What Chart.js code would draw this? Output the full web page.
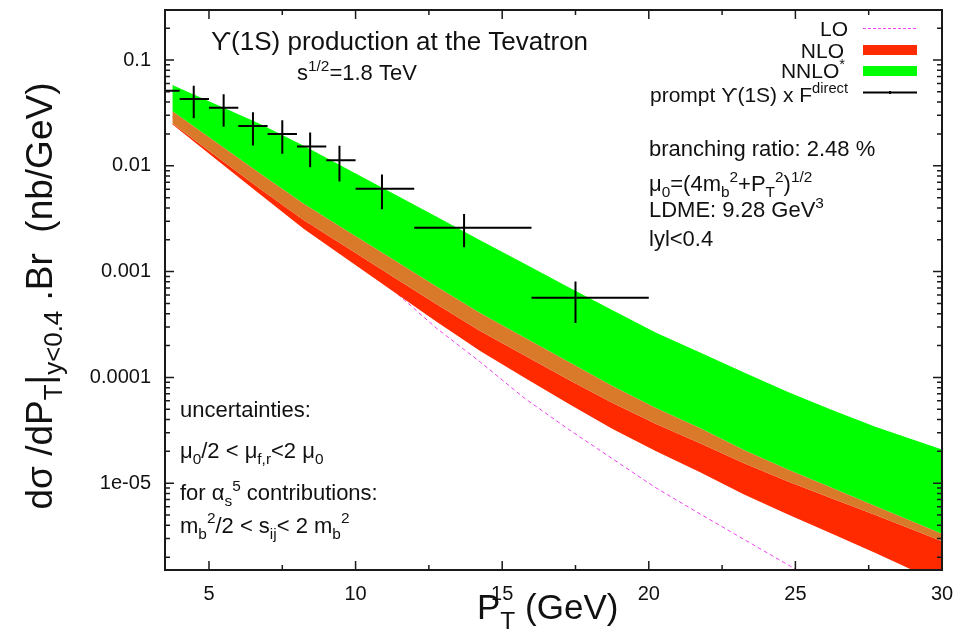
<!DOCTYPE html>
<html>
<head>
<meta charset="utf-8">
<script src="https://cdn.jsdelivr.net/npm/chart.js@4.4.1/dist/chart.umd.min.js"></script>
<style>
  html, body { margin: 0; padding: 0; background: #fff; }
</style>
</head>
<body>
<canvas id="chart" width="957" height="644"></canvas>
<script>
/* =====================================================
   THEORY BANDS (pT grid used by the calculation)
===================================================== */

const ptGrid = [3.75, 5.25, 6.75, 8.25, 9.75, 11.25, 12.75, 14.25, 15.75, 17.25,
                18.75, 20.25, 21.75, 23.25, 24.75, 26.25, 27.75, 29.25, 30.75];

// NNLO* band (upper / lower edge)
const nnloHi = [5.80e-2, 3.80e-2, 2.49e-2, 1.54e-2, 9.25e-3, 5.53e-3, 3.32e-3, 1.98e-3, 1.19e-3, 7.17e-4,
                4.33e-4, 2.65e-4, 1.72e-4, 1.11e-4, 7.28e-5, 4.92e-5, 3.40e-5, 2.45e-5, 1.77e-5];
const nnloLo = [2.52e-2, 1.23e-2, 6.04e-3, 3.04e-3, 1.66e-3, 9.03e-4, 4.95e-4, 2.75e-4, 1.62e-4, 9.55e-5,
                5.76e-5, 3.63e-5, 2.39e-5, 1.54e-5, 1.04e-5, 7.18e-6, 4.99e-6, 3.42e-6, 2.34e-6];

// NLO band (upper / lower edge)
const nloHi = [3.30e-2, 1.67e-2, 8.46e-3, 4.35e-3, 2.40e-3, 1.32e-3, 7.28e-4, 4.07e-4, 2.40e-4, 1.41e-4,
               8.35e-5, 5.14e-5, 3.32e-5, 2.06e-5, 1.35e-5, 9.04e-6, 6.07e-6, 4.07e-6, 2.73e-6];
const nloLo = [2.47e-2, 1.15e-2, 5.35e-3, 2.52e-3, 1.29e-3, 6.59e-4, 3.38e-4, 1.78e-4, 1.00e-4, 5.67e-5,
               3.27e-5, 2.00e-5, 1.27e-5, 7.82e-6, 5.06e-6, 3.32e-6, 2.18e-6, 1.40e-6, 9.0e-7];

// LO curve
const loPt  = [3.75, 5.25, 6.75, 8.25, 9.75, 11.25, 12.75, 14.25, 15.75, 17.25,
               18.75, 20.25, 21.75, 23.25, 24.75, 26.25];
const loVal = [2.91e-2, 1.40e-2, 6.76e-3, 3.14e-3, 1.46e-3, 6.79e-4, 2.93e-4, 1.40e-4, 6.39e-5, 3.25e-5,
               1.71e-5, 9.01e-6, 5.12e-6, 2.94e-6, 1.69e-6, 9.8e-7];


/* =====================================================
   CDF DATA: prompt Upsilon(1S) x F^direct
===================================================== */

const dataPt  = [3.5, 4.48, 5.5, 6.5, 7.5, 8.45, 9.45, 10.9, 13.7, 17.5];
const binLo   = [3, 4, 5, 6, 7, 8, 9, 10, 12, 16];
const binHi   = [4, 5, 6, 7, 8, 9, 10, 12, 16, 20];
const dataVal = [0.0513, 0.0427, 0.0354, 0.0238, 0.0200, 0.0152, 0.0113, 0.00608, 0.0026, 0.000566];
const dataErr = [0.015, 0.0145, 0.012, 0.0082, 0.0070, 0.0055, 0.0042, 0.0022, 0.0009, 0.00024];


/* =====================================================
   AXES
===================================================== */

const xTicks = [5, 10, 15, 20, 25, 30];
const xMinor = [7.5, 12.5, 17.5, 22.5, 27.5];
const yTicks = [0.1, 0.01, 0.001, 0.0001, 1e-5];
const yTickLabels = ["0.1", "0.01", "0.001", "0.0001", "1e-05"];

const GREEN = "#00ff00";
const RED = "#ff2a00";
const ORANGE = "#d97a2a";
const MAGENTA = "#f040f0";
const FONT = '"Liberation Sans", Arial, Helvetica, sans-serif';

const pts = arr => arr.map((v, i) => ({ x: ptGrid[i], y: v }));

function band(values, color) {
  return {
    data: pts(values),
    backgroundColor: color,
    borderWidth: 0,
    pointRadius: 0,
    fill: "+1",
    tension: 0
  };
}


/* =====================================================
   RICH TEXT (sub / superscripts)
===================================================== */

function richText(ctx, parts, x, y, size, align) {
  const widths = parts.map(([t, m]) => {
    ctx.font = (m === "n" ? size : size * 0.7) + "px " + FONT;
    return ctx.measureText(t).width;
  });
  const total = widths.reduce((a, b) => a + b, 0);
  let cx = align === "right" ? x - total : align === "center" ? x - total / 2 : x;
  parts.forEach(([t, m], i) => {
    ctx.font = (m === "n" ? size : size * 0.7) + "px " + FONT;
    const dy = m === "sub" ? size * 0.28 : m === "sup" ? -size * 0.42 : 0;
    ctx.fillText(t, cx, y + dy);
    cx += widths[i];
  });
}


/* =====================================================
   OVERLAY: error bars, frame, ticks, legend, labels
===================================================== */

const overlay = {
  id: "overlay",
  afterDatasetsDraw(chart) {
    const { ctx, chartArea: a, scales: { x, y } } = chart;

    // data crosses
    ctx.save();
    ctx.beginPath();
    ctx.rect(a.left, a.top, a.right - a.left, a.bottom - a.top);
    ctx.clip();
    ctx.strokeStyle = "#000";
    ctx.lineWidth = 2;
    dataPt.forEach((p, i) => {
      const px = x.getPixelForValue(p);
      const py = y.getPixelForValue(dataVal[i]);
      ctx.beginPath();
      ctx.moveTo(x.getPixelForValue(binLo[i]), py);
      ctx.lineTo(x.getPixelForValue(binHi[i]), py);
      ctx.moveTo(px, y.getPixelForValue(dataVal[i] + dataErr[i]));
      ctx.lineTo(px, y.getPixelForValue(dataVal[i] - dataErr[i]));
      ctx.stroke();
    });
    ctx.restore();

    // frame
    ctx.save();
    ctx.strokeStyle = "#1a1a1a";
    ctx.lineWidth = 2;
    ctx.strokeRect(a.left, a.top, a.right - a.left, a.bottom - a.top);

    // ticks (inside, mirrored)
    ctx.lineWidth = 1.5;
    ctx.beginPath();
    const xt = (v, len) => {
      const px = x.getPixelForValue(v);
      ctx.moveTo(px, a.bottom); ctx.lineTo(px, a.bottom - len);
      ctx.moveTo(px, a.top); ctx.lineTo(px, a.top + len);
    };
    xTicks.forEach(v => xt(v, 9));
    xMinor.forEach(v => xt(v, 5));
    const yt = (v, len) => {
      if (v < y.min || v > y.max) return;
      const py = y.getPixelForValue(v);
      ctx.moveTo(a.left, py); ctx.lineTo(a.left + len, py);
      ctx.moveTo(a.right, py); ctx.lineTo(a.right - len, py);
    };
    for (let k = -6; k <= -1; k++) {
      for (let m = 1; m <= 9; m++) yt(m * Math.pow(10, k), m === 1 ? 9 : 5);
    }
    ctx.stroke();
    ctx.restore();

    // legend
    ctx.save();
    ctx.fillStyle = "#111";
    ctx.textBaseline = "alphabetic";
    const lx = 848, sx0 = 863, sx1 = 917;
    richText(ctx, [["LO", "n"]], lx, 36, 21, "right");
    richText(ctx, [["NLO", "n"]], lx - 4, 57.5, 21, "right");
    richText(ctx, [["NNLO", "n"], ["*", "sup"]], lx - 3, 78, 21, "right");
    richText(ctx, [["prompt \u03D2(1S) x F", "n"], ["direct", "sup"]], lx, 101.5, 21, "right");

    ctx.strokeStyle = MAGENTA;
    ctx.lineWidth = 1;
    ctx.setLineDash([3, 2]);
    ctx.beginPath(); ctx.moveTo(sx0, 28.5); ctx.lineTo(sx1, 28.5); ctx.stroke();
    ctx.setLineDash([]);
    ctx.fillStyle = RED;
    ctx.fillRect(sx0, 45, sx1 - sx0, 10);
    ctx.fillStyle = GREEN;
    ctx.fillRect(sx0, 66, sx1 - sx0, 10);
    ctx.strokeStyle = "#000";
    ctx.lineWidth = 2;
    ctx.beginPath();
    ctx.moveTo(sx0, 92.5); ctx.lineTo(sx1, 92.5);
    ctx.moveTo((sx0 + sx1) / 2, 91); ctx.lineTo((sx0 + sx1) / 2, 94);
    ctx.stroke();

    // title + info text
    ctx.fillStyle = "#111";
    richText(ctx, [["\u03D2(1S) production at the Tevatron", "n"]], 211, 50, 26, "left");
    richText(ctx, [["s", "n"], ["1/2", "sup"], ["=1.8 TeV", "n"]], 297, 80, 22, "left");

    richText(ctx, [["branching ratio: 2.48 %", "n"]], 649, 156, 22, "left");
    richText(ctx, [["\u03BC", "n"], ["0", "sub"], ["=(4m", "n"], ["b", "sub"], ["2", "sup"],
                   ["+P", "n"], ["T", "sub"], ["2", "sup"], [")", "n"], ["1/2", "sup"]], 649, 191, 22, "left");
    richText(ctx, [["LDME: 9.28 GeV", "n"], ["3", "sup"]], 649, 217, 22, "left");
    richText(ctx, [["lyl<0.4", "n"]], 649, 246, 22, "left");

    richText(ctx, [["uncertainties:", "n"]], 180, 416.5, 22, "left");
    richText(ctx, [["\u03BC", "n"], ["0", "sub"], ["/2 < \u03BC", "n"], ["f,r", "sub"],
                   ["<2 \u03BC", "n"], ["0", "sub"]], 180, 458, 22, "left");
    richText(ctx, [["for \u03B1", "n"], ["s", "sub"], ["5", "sup"], [" contributions:", "n"]], 180, 500, 22, "left");
    richText(ctx, [["m", "n"], ["b", "sub"], ["2", "sup"], ["/2 < s", "n"], ["ij", "sub"],
                   ["< 2 m", "n"], ["b", "sub"], ["2", "sup"]], 180, 532.5, 22, "left");

    // axis titles
    richText(ctx, [["P", "n"], ["T", "sub"], [" (GeV)", "n"]], 477, 619, 35, "left");
    ctx.translate(52, 296);
    ctx.rotate(-Math.PI / 2);
    richText(ctx, [["d\u03C3 /dP", "n"], ["T", "sub"], ["|", "n"], ["y<0.4", "sub"],
                   [" .Br  (nb/GeV)", "n"]], 0, 0, 37, "center");
    ctx.restore();
  }
};


/* =====================================================
   CHART
===================================================== */

new Chart(document.getElementById("chart"), {
  type: "line",
  data: {
    datasets: [
      band(nnloHi, GREEN),   // green: NNLO* top -> NLO top
      band(nloHi, ORANGE),   // orange: overlap of both bands
      band(nnloLo, RED),     // red: NNLO* bottom -> NLO bottom
      { data: pts(nloLo), borderWidth: 0, pointRadius: 0, fill: false },
      {
        data: loPt.map((p, i) => ({ x: p, y: loVal[i] })),
        borderColor: MAGENTA,
        borderWidth: 1,
        borderDash: [4, 3],
        pointRadius: 0,
        fill: false,
        tension: 0
      }
    ]
  },
  options: {
    responsive: false,
    animation: false,
    devicePixelRatio: 1,
    layout: { padding: { left: 0, right: 15, top: 10, bottom: 0 } },
    plugins: { legend: { display: false }, tooltip: { enabled: false } },
    scales: {
      x: {
        type: "linear",
        min: 3.5,
        max: 30,
        grid: { display: false, drawTicks: false },
        border: { display: false },
        ticks: {
          color: "#111",
          font: { size: 20, family: FONT },
          padding: 12,
          maxRotation: 0,
          autoSkip: false,
          callback: v => String(v)
        },
        afterBuildTicks: s => { s.ticks = xTicks.map(v => ({ value: v })); },
        afterFit: s => { s.height = 74; s.paddingLeft = 0; s.paddingRight = 0; }
      },
      y: {
        type: "logarithmic",
        min: 1.512e-6,
        max: 0.297,
        grid: { display: false, drawTicks: false },
        border: { display: false },
        ticks: {
          color: "#111",
          font: { size: 20, family: FONT },
          padding: 14,
          autoSkip: false,
          callback: (v, i) => yTickLabels[i]
        },
        afterBuildTicks: s => { s.ticks = yTicks.map(v => ({ value: v })); },
        afterFit: s => { s.width = 165; s.paddingTop = 0; s.paddingBottom = 0; }
      }
    }
  },
  plugins: [overlay]
});
</script>
</body>
</html>
